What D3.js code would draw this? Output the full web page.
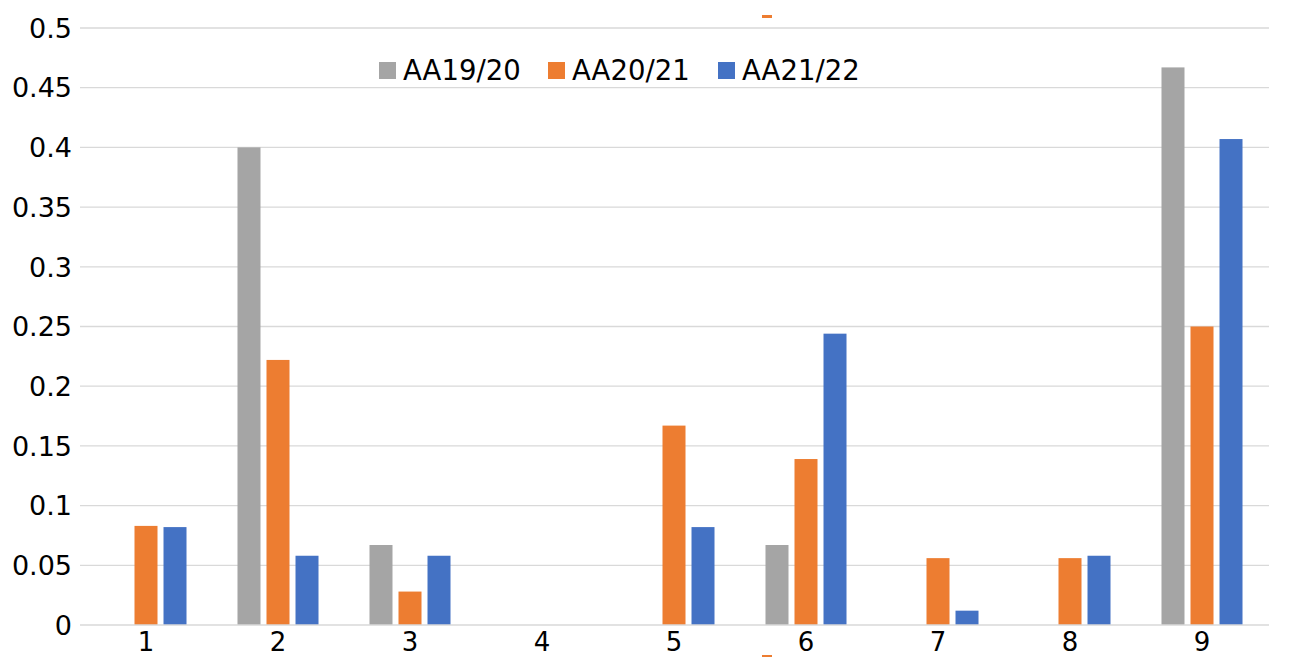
<!DOCTYPE html>
<html><head><meta charset="utf-8">
<script src="https://cdn.jsdelivr.net/npm/d3@7"></script>
<style>body{margin:0;background:#fff}svg{display:block}text{font-family:"DejaVu Sans",sans-serif}</style>
</head><body><svg id="c" width="1292" height="657"></svg>
<script>
const categories = ["1","2","3","4","5","6","7","8","9"];
const seriesNames = ["AA19/20","AA20/21","AA21/22"];
const colors = ["#a5a5a5","#ed7d31","#4472c4"];
const aa1920 = [0, 0.4, 0.067, 0, 0, 0.067, 0, 0, 0.467];
const aa2021 = [0.083, 0.222, 0.028, 0, 0.167, 0.139, 0.056, 0.056, 0.25];
const aa2122 = [0.082, 0.058, 0.058, 0, 0.082, 0.244, 0.012, 0.058, 0.407];
const yTicks = [0,0.05,0.1,0.15,0.2,0.25,0.3,0.35,0.4,0.45,0.5];
const series = [aa1920, aa2021, aa2122];

const svg = d3.select("#c");
const x = d3.scaleBand().domain(categories).range([80,1268]);
const y = d3.scaleLinear().domain([0,0.5]).range([625,28]);
const inner = d3.scaleBand().domain(seriesNames).range([0,x.bandwidth()]).paddingInner(0.207).paddingOuter(0.879);

// gridlines
svg.append("g").selectAll("line").data(yTicks.slice(1)).join("line")
  .attr("x1",80).attr("x2",1269).attr("y1",d=>y(d)).attr("y2",d=>y(d))
  .attr("stroke","#d9d9d9").attr("stroke-width",1.3);

// y labels
svg.append("g").selectAll("text").data(yTicks).join("text")
  .attr("x",72).attr("y",d=>y(d)).attr("dy","0.36em").attr("text-anchor","end")
  .attr("font-size",27).attr("fill","#000").text(d=>d===0?"0":String(d));

// bars
series.forEach((vals,si)=>{
  svg.append("g").selectAll("rect").data(vals).join("rect")
    .attr("x",(d,i)=>x(categories[i])+inner(seriesNames[si]))
    .attr("width",inner.bandwidth())
    .attr("y",d=>y(d)).attr("height",d=>y(0)-y(d))
    .attr("fill",colors[si]);
});

// x axis line
svg.append("line").attr("x1",80).attr("x2",1269).attr("y1",y(0)).attr("y2",y(0))
  .attr("stroke","#d9d9d9").attr("stroke-width",1.5);

// x labels
svg.append("g").selectAll("text").data(categories).join("text")
  .attr("x",d=>x(d)+x.bandwidth()/2).attr("y",651).attr("text-anchor","middle")
  .attr("font-size",26).attr("fill","#000").text(d=>d);

// legend
const legX = [379,548,718];
const lg = svg.append("g");
seriesNames.forEach((n,i)=>{
  lg.append("rect").attr("x",legX[i]).attr("y",62).attr("width",17).attr("height",17).attr("fill",colors[i]);
  lg.append("text").attr("x",legX[i]+24).attr("y",70).attr("dy","0.36em").attr("font-size",27.5).attr("fill","#000").text(n);
});

// selection handle marks
svg.append("rect").attr("x",762).attr("y",15).attr("width",10).attr("height",3).attr("fill","#ed7d31");
svg.append("rect").attr("x",762).attr("y",655).attr("width",10).attr("height",2).attr("fill","#ed7d31");
</script></body></html>
